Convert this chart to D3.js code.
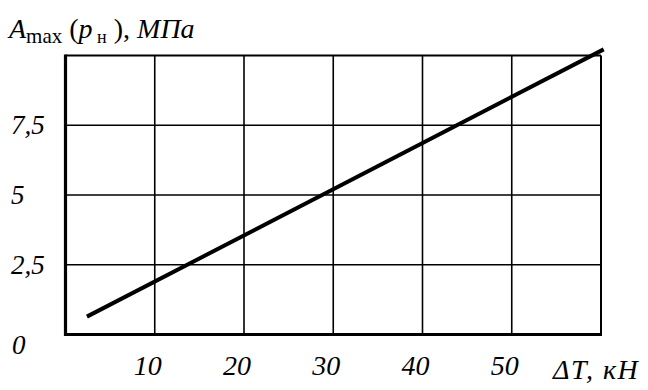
<!DOCTYPE html>
<html>
<head>
<meta charset="utf-8">
<script src="https://cdn.jsdelivr.net/npm/d3@7"></script>
</head>
<body style="margin:0;padding:0;background:#fff">
<svg id="chart" width="648" height="390" style='font-family:"Liberation Serif", FreeSerif, "Times New Roman", Times'></svg>
<script>
// ---- data ----
const xDomain = [0, 60];
const yDomain = [0, 10];
const xTicks = [10, 20, 30, 40, 50];
const xTickLabels = ["10", "20", "30", "40", "50"];
const yTicks = [2.5, 5, 7.5];
const yTickLabels = ["2,5", "5", "7,5"];
const lineX = [2.4, 60.3];      // ΔT, кН
const lineY = [0.64, 10.22];    // A_max (p_н), МПа

// ---- layout ----
const svg = d3.select("#chart");
const fam = d => '"Liberation Serif", FreeSerif, "Times New Roman", Times';
const pL = 65.5, pR = 601, pT = 55.5, pB = 334.5;
const x = d3.scaleLinear().domain(xDomain).range([pL, pR]);
const y = d3.scaleLinear().domain(yDomain).range([pB, pT]);

// grid
svg.append("g").selectAll("line").data(xTicks).join("line")
  .attr("x1", d => x(d)).attr("x2", d => x(d))
  .attr("y1", pT).attr("y2", pB)
  .attr("stroke", "#000").attr("stroke-width", 1.6);
svg.append("g").selectAll("line").data(yTicks).join("line")
  .attr("x1", pL).attr("x2", pR)
  .attr("y1", d => y(d)).attr("y2", d => y(d))
  .attr("stroke", "#000").attr("stroke-width", 1.6);

// top & right border
svg.append("line").attr("x1", pL).attr("x2", pR).attr("y1", pT).attr("y2", pT)
  .attr("stroke", "#000").attr("stroke-width", 2);
svg.append("line").attr("x1", pR).attr("x2", pR).attr("y1", pT).attr("y2", pB)
  .attr("stroke", "#000").attr("stroke-width", 2);

// axes (thick)
svg.append("line").attr("x1", pL).attr("x2", pL).attr("y1", pT - 1).attr("y2", pB + 1.5)
  .attr("stroke", "#000").attr("stroke-width", 3.2);
svg.append("line").attr("x1", pL - 1.5).attr("x2", pR + 1).attr("y1", pB).attr("y2", pB)
  .attr("stroke", "#000").attr("stroke-width", 3.2);

// data line
const pts = lineX.map((v, i) => [v, lineY[i]]);
svg.append("path").datum(pts)
  .attr("d", d3.line().x(d => x(d[0])).y(d => y(d[1])))
  .attr("fill", "none").attr("stroke", "#000").attr("stroke-width", 4);

// tick labels
svg.selectAll("text.xt").data(xTicks).join("text").attr("class", "xt")
  .attr("x", d => x(d) - 7).attr("y", 375).attr("text-anchor", "middle")
  .style("font-family", fam).style("font-style", "italic").style("font-size", "28px")
  .text((d, i) => xTickLabels[i]);
svg.selectAll("text.yt").data(yTicks).join("text").attr("class", "yt")
  .attr("x", 11).attr("y", d => y(d) + 9)
  .style("font-family", fam).style("font-style", "italic").style("font-size", "27px")
  .text((d, i) => yTickLabels[i]);
svg.selectAll("text.zero").data([0]).join("text").attr("class", "zero")
  .attr("x", 12).attr("y", d => y(d) + 19)
  .style("font-family", fam).style("font-style", "italic").style("font-size", "27px")
  .text("0");

// axis titles
svg.selectAll("text.xl").data(["ΔT, кН"]).join("text").attr("class", "xl")
  .attr("x", 553).attr("y", 379)
  .style("font-family", fam).style("font-style", "italic").style("font-size", "28px")
  .style("letter-spacing", "1.5px")
  .text(d => d);

const t = svg.selectAll("text.yl").data([0]).join("text").attr("class", "yl")
  .attr("x", 9).attr("y", 38)
  .style("font-family", fam).style("font-size", "28px");
t.append("tspan").style("font-style", "italic").text("A");
t.append("tspan").attr("dy", 5).style("font-size", "21px").text("max");
t.append("tspan").attr("dy", -5).text(" (");
t.append("tspan").style("font-style", "italic").text("p");
t.append("tspan").attr("dy", 5).style("font-size", "18px").text(" н");
t.append("tspan").attr("dy", -5).text(" ),");
t.append("tspan").style("font-style", "italic").text(" МПа");
</script>
</body>
</html>
